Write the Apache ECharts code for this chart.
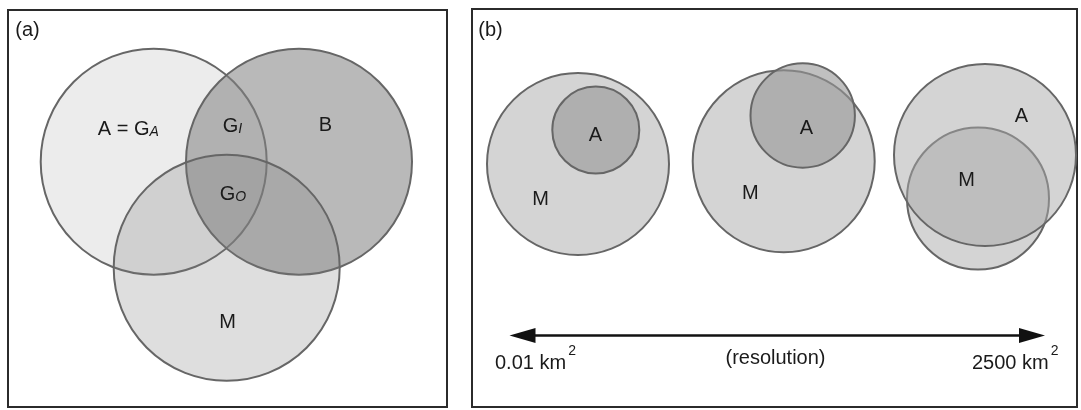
<!DOCTYPE html>
<html>
<head>
<meta charset="utf-8">
<title>Sets and resolution</title>
<script src="https://cdn.jsdelivr.net/npm/echarts@6/dist/echarts.min.js"></script>
<style>
  html, body { margin: 0; padding: 0; background: #ffffff; }
  #chart { width: 1081px; height: 410px; }
</style>
</head>
<body>
<div id="chart"></div>
<script>
// ---- Panel (a): three overlapping sets (diagram units, 10 px per unit) ----
const vennNames = ['A', 'B', 'M'];
const vennX = [14.57, 29.10, 21.87];
const vennY = [15.17, 15.17, 25.78];
const vennR = [11.30, 11.30, 11.30];

const vennLabelText = ['(a)', '{n|A = G}{s|A}', '{n|G}{s|I}', 'B', '{n|G}{s|O}', 'M'];
const vennLabelX = [1.95, 12.03, 22.45, 31.75, 22.50, 21.95];
const vennLabelY = [2.00, 11.83, 11.50, 11.50, 18.30, 31.27];

// ---- Panel (b): set pairs at three resolutions ----
const scaleNames = ['M', 'A', 'M', 'A', 'M', 'A'];
const scaleStep = [0, 0, 1, 1, 2, 2];
const scaleX = [10.60, 12.38, 31.17, 33.07, 50.60, 51.30];
const scaleY = [15.50, 12.10, 15.23, 10.65, 18.95, 14.60];
const scaleR = [9.10, 4.35, 9.10, 5.22, 7.10, 9.10];

const scaleLabelText = ['(b)', 'A', 'M', 'A', 'M', 'A', 'M', '(resolution)'];
const scaleLabelX = [1.85, 12.35, 6.87, 33.43, 27.84, 54.95, 49.45, 30.35];
const scaleLabelY = [2.10, 12.60, 19.05, 11.90, 18.40, 10.75, 17.10, 34.90];

const resolutionText = ['0.01 km', '2500 km'];
const resolutionSup = ['2', '2'];
const resolutionX = [2.30, 50.00];
const resolutionY = [35.40, 35.40];

const arrowFrom = [3.75, 32.65];
const arrowTo = [57.30, 32.65];

// ---- styling ----
const FONT = '"Liberation Sans", Arial, Helvetica, sans-serif';
const TEXT = '#1a1a1a';
const EDGE = '#666666';

const vennFill = {
  A: 'rgba(236,236,236,1)',
  B: 'rgba(130,130,130,0.56)',
  M: 'rgba(125,125,125,0.25)'
};
const scaleFill = function (name, step) {
  if (name === 'M') return '#d4d4d4';
  return step === 2 ? 'rgba(167,167,167,0.49)' : 'rgba(150,150,150,0.60)';
};

const chart = echarts.init(document.getElementById('chart'), null, { renderer: 'canvas' });

function hiddenAxis(gridIndex, max, inverse) {
  return {
    type: 'value', gridIndex: gridIndex, min: 0, max: max, inverse: !!inverse,
    show: false, axisLine: { show: false }, splitLine: { show: false },
    axisTick: { show: false }, axisLabel: { show: false }
  };
}

function circleSeries(axisIndex, xs, ys, rs, styleAt) {
  return {
    type: 'custom',
    xAxisIndex: axisIndex, yAxisIndex: axisIndex,
    silent: true,
    data: xs.map(function (x, i) { return [x, ys[i], rs[i]]; }),
    encode: { x: 0, y: 1 },
    renderItem: function (params, api) {
      const c = api.coord([api.value(0), api.value(1)]);
      const s = api.size([api.value(2), api.value(2)]);
      return {
        type: 'circle',
        shape: { cx: c[0], cy: c[1], r: s[0] },
        style: styleAt(params.dataIndex)
      };
    }
  };
}

function labelSeries(axisIndex, texts, xs, ys) {
  return {
    type: 'custom',
    xAxisIndex: axisIndex, yAxisIndex: axisIndex,
    silent: true, z: 5,
    data: xs.map(function (x, i) { return [x, ys[i]]; }),
    encode: { x: 0, y: 1 },
    renderItem: function (params, api) {
      const c = api.coord([api.value(0), api.value(1)]);
      return {
        type: 'text',
        x: c[0], y: c[1],
        style: {
          text: texts[params.dataIndex],
          fontSize: 20, fontFamily: FONT, fill: TEXT,
          align: 'center', verticalAlign: 'middle',
          rich: {
            n: { fontSize: 20, fontFamily: FONT, fill: TEXT, verticalAlign: 'bottom', lineHeight: 22 },
            s: { fontSize: 14, fontFamily: FONT, fontStyle: 'italic', fill: TEXT, verticalAlign: 'bottom', lineHeight: 22 }
          }
        }
      };
    }
  };
}

const measureCtx = document.createElement('canvas').getContext('2d');
function textWidth(str, size) {
  measureCtx.font = size + 'px ' + FONT;
  return measureCtx.measureText(str).width;
}

const option = {
  animation: false,
  backgroundColor: '#ffffff',
  grid: [
    { left: 8, top: 10, width: 439, height: 397, show: true, borderColor: '#2b2b2b', borderWidth: 2, backgroundColor: '#ffffff', containLabel: false },
    { left: 472, top: 9, width: 605, height: 398, show: true, borderColor: '#2b2b2b', borderWidth: 2, backgroundColor: '#ffffff', containLabel: false }
  ],
  xAxis: [hiddenAxis(0, 43.9), hiddenAxis(1, 60.5)],
  yAxis: [hiddenAxis(0, 39.7, true), hiddenAxis(1, 39.8, true)],
  series: [
    circleSeries(0, vennX, vennY, vennR, function (i) {
      return { fill: vennFill[vennNames[i]], stroke: EDGE, lineWidth: 2 };
    }),
    labelSeries(0, vennLabelText, vennLabelX, vennLabelY),

    circleSeries(1, scaleX, scaleY, scaleR, function (i) {
      return { fill: scaleFill(scaleNames[i], scaleStep[i]), stroke: EDGE, lineWidth: 2 };
    }),
    labelSeries(1, scaleLabelText, scaleLabelX, scaleLabelY),

    // resolution axis: double-headed arrow
    {
      type: 'custom',
      xAxisIndex: 1, yAxisIndex: 1,
      silent: true, z: 4,
      data: [[arrowFrom[0], arrowFrom[1], arrowTo[0], arrowTo[1]]],
      renderItem: function (params, api) {
        const a = api.coord([api.value(0), api.value(1)]);
        const b = api.coord([api.value(2), api.value(3)]);
        const len = 26, half = 7.5;
        return {
          type: 'group',
          children: [
            { type: 'line', shape: { x1: a[0] + len - 2, y1: a[1], x2: b[0] - len + 2, y2: b[1] },
              style: { stroke: '#111111', lineWidth: 2.5 } },
            { type: 'polygon', shape: { points: [[a[0], a[1]], [a[0] + len, a[1] - half], [a[0] + len, a[1] + half]] },
              style: { fill: '#111111' } },
            { type: 'polygon', shape: { points: [[b[0], b[1]], [b[0] - len, b[1] - half], [b[0] - len, b[1] + half]] },
              style: { fill: '#111111' } }
          ]
        };
      }
    },

    // resolution end labels with squared units
    {
      type: 'custom',
      xAxisIndex: 1, yAxisIndex: 1,
      silent: true, z: 5,
      data: resolutionX.map(function (x, i) { return [x, resolutionY[i]]; }),
      encode: { x: 0, y: 1 },
      renderItem: function (params, api) {
        const i = params.dataIndex;
        const c = api.coord([api.value(0), api.value(1)]);
        const w = textWidth(resolutionText[i], 20);
        return {
          type: 'group',
          children: [
            { type: 'text', x: c[0], y: c[1],
              style: { text: resolutionText[i], fontSize: 20, fontFamily: FONT, fill: TEXT, align: 'left', verticalAlign: 'middle' } },
            { type: 'text', x: c[0] + w + 2, y: c[1] - 12,
              style: { text: resolutionSup[i], fontSize: 14, fontFamily: FONT, fill: TEXT, align: 'left', verticalAlign: 'middle' } }
          ]
        };
      }
    }
  ]
};

chart.setOption(option);
</script>
</body>
</html>
